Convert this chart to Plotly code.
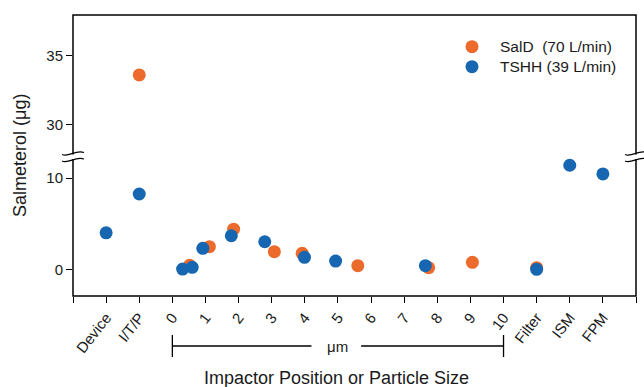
import plotly.graph_objects as go

# ---------------- data ----------------
tick_labels = ["Device", "I/T/P", "0", "1", "2", "3", "4", "5", "6", "7", "8",
               "9", "10", "Filter", "ISM", "FPM"]

series_names = ["SalD  (70 L/min)", "TSHH (39 L/min)"]

# SalD (70 L/min)
sald_stage = ["I/T/P"]
sald_stage_values = [33.6]
sald_um_sizes = [0.52, 1.12, 1.85, 3.08, 3.92, 5.6, 7.74, 9.06]
sald_um_values = [0.45, 2.48, 4.4, 1.93, 1.75, 0.4, 0.18, 0.77]
sald_tail = ["Filter"]
sald_tail_values = [0.18]

# TSHH (39 L/min)
tshh_stage = ["Device", "I/T/P"]
tshh_stage_values = [4.0, 8.25]
tshh_um_sizes = [0.31, 0.6, 0.92, 1.78, 2.79, 3.99, 4.93, 7.64]
tshh_um_values = [0.03, 0.22, 2.3, 3.68, 3.02, 1.31, 0.91, 0.4]
tshh_tail = ["Filter", "ISM", "FPM"]
tshh_tail_values = [0.0, 11.4, 10.45]

ORANGE = "#EC6A2B"
BLUE = "#1766B1"
COLORS = [ORANGE, BLUE]

pos_of = {lab: i for i, lab in enumerate(tick_labels)}


def um_pos(u):
    return pos_of["0"] + u


# ---------------- figure ----------------
W, H = 644, 387
L, R, T, B = 73, 8, 15, 91
PW, PH = W - L - R, H - T - B
break_px = 154
split = (H - B - break_px) / PH

fig = go.Figure()

mk = dict(size=13, line=dict(width=0))

# SalD lower part
fig.add_trace(go.Scatter(
    x=[um_pos(u) for u in sald_um_sizes] + [pos_of[t] for t in sald_tail],
    y=sald_um_values + sald_tail_values,
    mode="markers", marker=dict(color=ORANGE, **mk),
    name=series_names[0], xaxis="x", yaxis="y", showlegend=False))
# SalD upper part
fig.add_trace(go.Scatter(
    x=[pos_of[s] for s in sald_stage], y=sald_stage_values,
    mode="markers", marker=dict(color=ORANGE, **mk),
    name=series_names[0], showlegend=False, xaxis="x", yaxis="y2"))
# TSHH
fig.add_trace(go.Scatter(
    x=[pos_of[s] for s in tshh_stage] + [um_pos(u) for u in tshh_um_sizes]
      + [pos_of[t] for t in tshh_tail],
    y=tshh_stage_values + tshh_um_values + tshh_tail_values,
    mode="markers", marker=dict(color=BLUE, **mk),
    name=series_names[1], xaxis="x", yaxis="y", showlegend=False))

FONT = "Liberation Sans, Arial, sans-serif"

fig.update_layout(
    template="none",
    width=W, height=H,
    margin=dict(l=L, r=R, t=T, b=B, autoexpand=False),
    paper_bgcolor="white", plot_bgcolor="white",
    font=dict(family=FONT, size=15, color="#1a1a1a"),
    showlegend=False,
    xaxis=dict(
        range=[-1, 16],
        tickvals=list(range(-1, 17)),
        ticktext=[""] + tick_labels + [""],
        tickangle=-52, ticks="outside", ticklen=6, tickcolor="black",
        tickwidth=1.2, showgrid=False, zeroline=False, showline=False,
        tickfont=dict(size=15), anchor="y", automargin=False),
    yaxis=dict(
        domain=[0, split], range=[-2.92, 12.63],
        tickvals=[0, 10], ticks="outside", ticklen=6, tickcolor="black",
        tickwidth=1.2, showgrid=False, zeroline=False, showline=False,
        tickfont=dict(size=15), automargin=False),
    yaxis2=dict(
        domain=[split, 1], range=[27.83, 37.97],
        tickvals=[30, 35], ticks="outside", ticklen=6, tickcolor="black",
        tickwidth=1.2, showgrid=False, zeroline=False, showline=False,
        tickfont=dict(size=15), anchor="x", automargin=False),
)


def px(xp):
    return (xp - L) / PW


def py(yp):
    return (H - B - yp) / PH


shapes = []
# frame
shapes.append(dict(type="rect", xref="paper", yref="paper", x0=0, x1=1, y0=0, y1=1,
                   line=dict(color="black", width=1.5), layer="above"))
# break marks
for ax in (L, W - R):
    shapes.append(dict(type="rect", xref="paper", yref="paper",
                       x0=px(ax - 2), x1=px(ax + 2), y0=py(159), y1=py(154.5),
                       fillcolor="white", line=dict(width=0), layer="above"))
    for yb in (153.5, 160):
        path = (f"M {px(ax - 11)},{py(yb + 1)} "
                f"C {px(ax - 4)},{py(yb + 4)} {px(ax + 2)},{py(yb - 4)} {px(ax + 11)},{py(yb - 1)}")
        shapes.append(dict(type="path", xref="paper", yref="paper", path=path,
                           line=dict(color="black", width=1.2), layer="above"))

# um bracket
ybr = py(346)
shapes += [
    dict(type="line", xref="x", yref="paper", x0=um_pos(0), x1=6.2, y0=ybr, y1=ybr,
         line=dict(color="black", width=1.3)),
    dict(type="line", xref="x", yref="paper", x0=7.7, x1=um_pos(10), y0=ybr, y1=ybr,
         line=dict(color="black", width=1.3)),
    dict(type="line", xref="x", yref="paper", x0=um_pos(0), x1=um_pos(0),
         y0=py(335), y1=py(357), line=dict(color="black", width=1.3)),
    dict(type="line", xref="x", yref="paper", x0=um_pos(10), x1=um_pos(10),
         y0=py(335), y1=py(357), line=dict(color="black", width=1.3)),
]

# custom legend
leg_rows = [46.7, 66.7]
for name, col, yr in zip(series_names, COLORS, leg_rows):
    r = 6.5
    shapes.append(dict(type="circle", xref="paper", yref="paper",
                       x0=px(472 - r), x1=px(472 + r), y0=py(yr + r), y1=py(yr - r),
                       fillcolor=col, line=dict(width=0), layer="above"))
    fig.add_annotation(x=px(498), y=py(yr), xref="paper", yref="paper", text=name,
                       showarrow=False, xanchor="left", yanchor="middle",
                       font=dict(size=15.5))

fig.update_layout(shapes=shapes)

fig.add_annotation(x=um_pos(5), y=ybr, xref="x", yref="paper", text="μm",
                   showarrow=False, font=dict(size=15), yanchor="middle")
fig.add_annotation(x=px(336), y=py(378), xref="paper", yref="paper",
                   text="Impactor Position or Particle Size", showarrow=False,
                   font=dict(size=18), yanchor="middle", xanchor="center")
fig.add_annotation(x=px(20), y=py(156), xref="paper", yref="paper",
                   text="Salmeterol (μg)", showarrow=False, textangle=-90,
                   font=dict(size=18), yanchor="middle", xanchor="center")

fig.write_html("out.html", config={"displayModeBar": False},
               post_script="document.body.style.margin='0';document.body.style.padding='0';")
